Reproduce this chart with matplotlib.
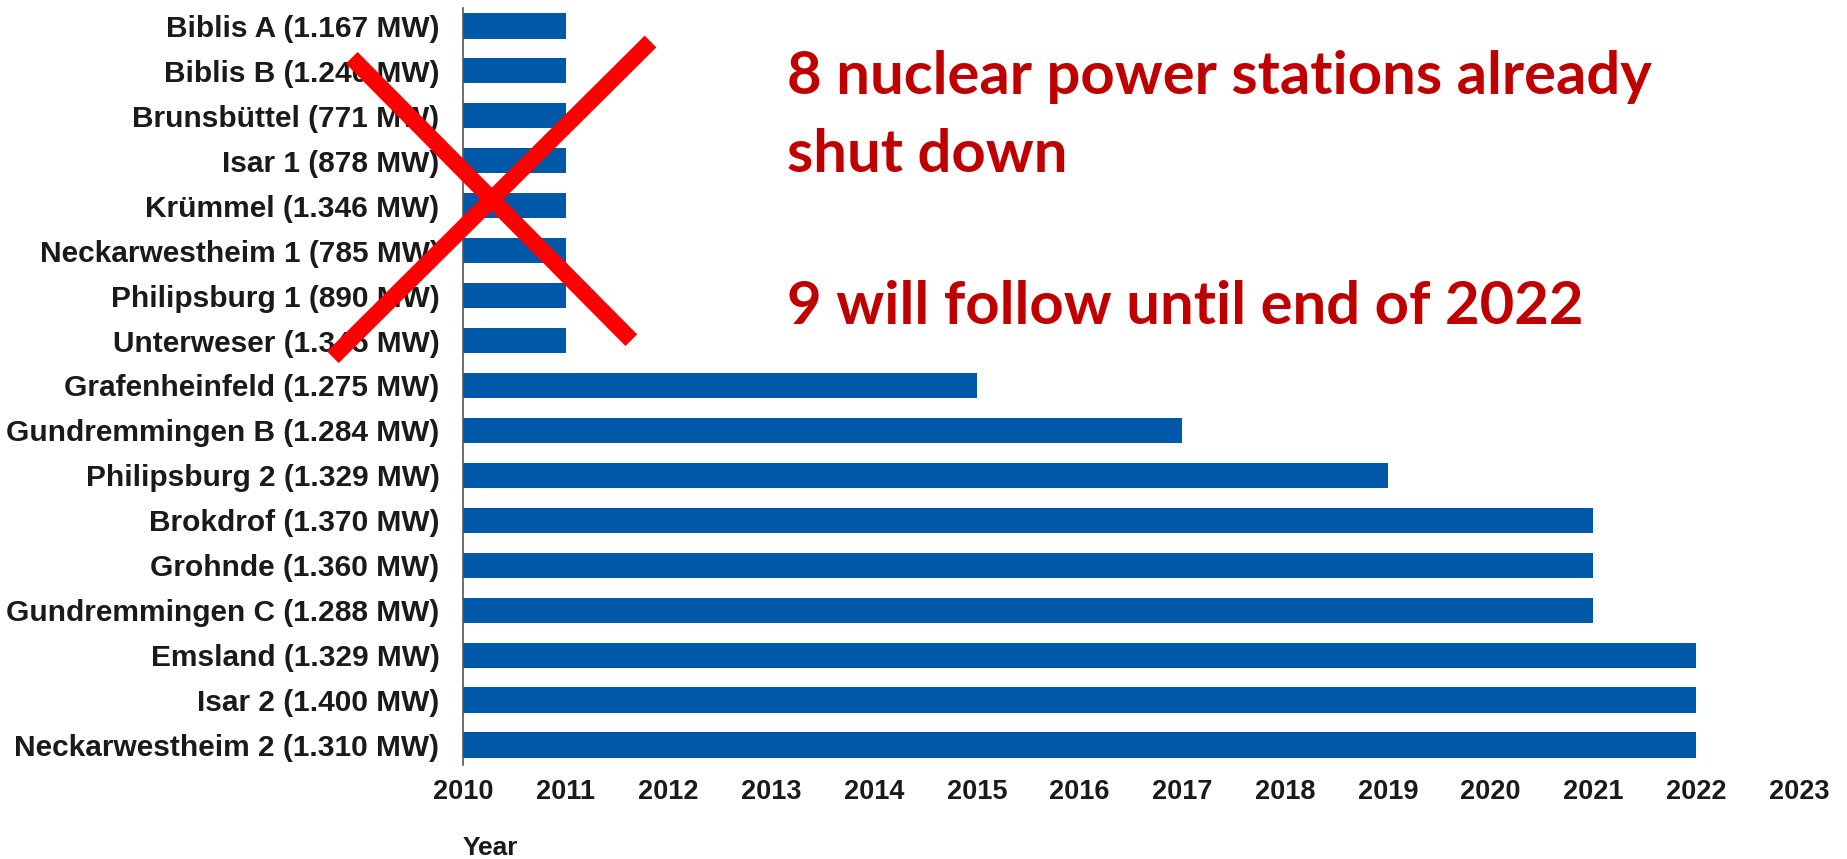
import numpy as np
import matplotlib
matplotlib.use('Agg')
import matplotlib.pyplot as plt
from matplotlib.lines import Line2D

# ===================== ДАННЫЕ =====================
plants = [
    "Biblis A (1.167 MW)",
    "Biblis B (1.240 MW)",
    "Brunsbüttel (771 MW)",
    "Isar 1 (878 MW)",
    "Krümmel (1.346 MW)",
    "Neckarwestheim 1 (785 MW)",
    "Philipsburg 1 (890 MW)",
    "Unterweser (1.345 MW)",
    "Grafenheinfeld (1.275 MW)",
    "Gundremmingen B (1.284 MW)",
    "Philipsburg 2 (1.329 MW)",
    "Brokdrof (1.370 MW)",
    "Grohnde (1.360 MW)",
    "Gundremmingen C (1.288 MW)",
    "Emsland (1.329 MW)",
    "Isar 2 (1.400 MW)",
    "Neckarwestheim 2 (1.310 MW)",
]
shutdown_year = [2011, 2011, 2011, 2011, 2011, 2011, 2011, 2011,
                 2015, 2017, 2019, 2021, 2021, 2021, 2022, 2022, 2022]
start_year = 2010
year_ticks = list(range(2010, 2024))

note_lines = ["8 nuclear power stations already", "shut down",
              "9 will follow until end of 2022"]

BAR_COLOR = '#0058A8'
RED_TEXT = '#C00000'
W, H = 1847, 859

LABEL_FONT = ['Liberation Sans', 'DejaVu Sans']
NOTE_FONT = ['Lato', 'Open Sans', 'DejaVu Sans']

# ===================== ГРАФИК =====================
fig = plt.figure(figsize=(W / 100, H / 100), dpi=100)
fig.patch.set_facecolor('white')

# оси в пикселях: x 463..1799, y 8..765
ax = fig.add_axes([463 / W, (H - 765) / H, 1336 / W, 757 / H])

y = np.arange(len(plants))
widths = [v - start_year for v in shutdown_year]
ax.barh(y, widths, left=start_year, height=0.56, color=BAR_COLOR)

ax.set_xlim(2010, 2023)
ax.set_ylim(16.445, -0.40)
ax.set_yticks(y)
ax.set_yticklabels(plants, family=LABEL_FONT, fontweight='bold',
                   fontsize=21.5, color='#1a1a1a')
ax.set_xticks(year_ticks)
ax.set_xticklabels([str(t) for t in year_ticks], family=LABEL_FONT,
                   fontweight='bold', fontsize=19.5, color='#1a1a1a')
ax.tick_params(axis='y', length=0, pad=17)
ax.tick_params(axis='x', length=0, pad=10)

for s in ['top', 'right', 'bottom']:
    ax.spines[s].set_visible(False)
ax.spines['left'].set_color('#555555')
ax.spines['left'].set_linewidth(1.2)

fig.text(463 / W, 4 / H, "Year", family=LABEL_FONT, fontweight='bold',
         fontsize=19, color='#1a1a1a', ha='left', va='baseline')

# красный текст
baselines = [94, 172, 324]
for line, b in zip(note_lines, baselines):
    fig.text(787 / W, (H - b) / H, line, family=NOTE_FONT, fontweight='bold',
             fontsize=43, color=RED_TEXT, ha='left', va='baseline')

# красный крест
strokes = [((351.7, 57.8), (631.3, 340.2)),
           ((650.5, 41.5), (332.8, 357.2))]
for (x0, y0), (x1, y1) in strokes:
    fig.add_artist(Line2D([x0 / W, x1 / W], [(H - y0) / H, (H - y1) / H],
                          transform=fig.transFigure, color='#FF0000',
                          linewidth=11.9, solid_capstyle='butt'))

plt.savefig('out.png', dpi=100)
plt.close(fig)
